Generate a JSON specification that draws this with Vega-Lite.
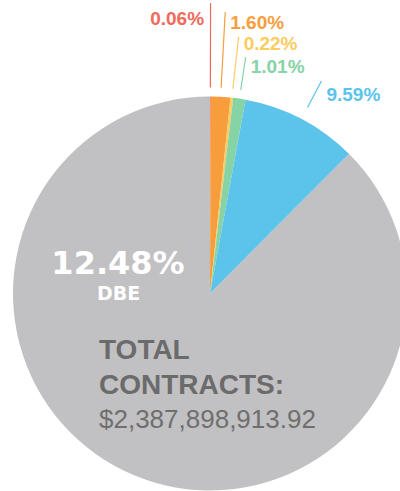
{
  "$schema": "https://vega.github.io/schema/vega-lite/v6.json",
  "width": 380,
  "height": 394,
  "autosize": {"type": "none"},
  "padding": {"left": 20, "top": 96.5, "right": 0, "bottom": 0.5},
  "background": "white",
  "config": {"view": {"stroke": null}},
  "data": {
    "values": [
      {"group": "Segment 1", "category": "DBE", "order": 1, "share": 0.0006},
      {"group": "Segment 2", "category": "DBE", "order": 2, "share": 0.016},
      {"group": "Segment 3", "category": "DBE", "order": 3, "share": 0.0022},
      {"group": "Segment 4", "category": "DBE", "order": 4, "share": 0.0101},
      {"group": "Segment 5", "category": "DBE", "order": 5, "share": 0.0959},
      {"group": "Non-DBE", "category": "Non-DBE", "order": 6, "share": 0.8752}
    ]
  },
  "layer": [
    {
      "transform": [
        {"stack": "share", "groupby": [], "sort": [{"field": "order", "order": "ascending"}], "as": ["s0", "s1"]}
      ],
      "encoding": {
        "theta": {"field": "s0", "type": "quantitative", "scale": {"domain": [0, 1]}},
        "theta2": {"field": "s1"},
        "color": {
          "field": "group", "type": "nominal", "legend": null,
          "scale": {
            "domain": ["Segment 1", "Segment 2", "Segment 3", "Segment 4", "Segment 5", "Non-DBE"],
            "range": ["#F1695A", "#F79D3C", "#FDCB5E", "#86D3A6", "#5CC3EB", "#C1C0C2"]
          }
        }
      },
      "layer": [
        {"mark": {"type": "arc", "radius": 197}},
        {"transform": [{"filter": "datum.order === 1"}], "mark": {"type": "arc", "filled": false, "radius": 290.5, "radius2": 206, "padAngle": 1, "strokeWidth": 1.2}},
        {"transform": [{"filter": "datum.order === 2"}], "mark": {"type": "arc", "filled": false, "radius": 281.9, "radius2": 206, "padAngle": 1, "strokeWidth": 1.2}},
        {"transform": [{"filter": "datum.order === 3"}], "mark": {"type": "arc", "filled": false, "radius": 258.1, "radius2": 206, "padAngle": 1, "strokeWidth": 1.2}},
        {"transform": [{"filter": "datum.order === 4"}], "mark": {"type": "arc", "filled": false, "radius": 239.2, "radius2": 206, "padAngle": 1, "strokeWidth": 1.2}},
        {"transform": [{"filter": "datum.order === 5"}], "mark": {"type": "arc", "filled": false, "radius": 240, "radius2": 210, "padAngle": 1, "strokeWidth": 1.2}}
      ]
    },
    {
      "encoding": {
        "theta": {"field": "share", "type": "quantitative", "stack": true},
        "order": {"field": "order", "type": "quantitative", "sort": "ascending"},
        "text": {"field": "share", "type": "quantitative", "format": ".2%"},
        "color": {"field": "group", "type": "nominal", "legend": null}
      },
      "layer": [
        {"mark": {"type": "text", "radius": 290.5, "align": "right", "baseline": "alphabetic", "dx": -6.5, "dy": 22, "font": "Liberation Sans", "fontWeight": "bold", "fontSize": 19},
         "encoding": {"opacity": {"condition": {"test": "datum.order === 1", "value": 1}, "value": 0}}},
        {"mark": {"type": "text", "radius": 281.9, "align": "left", "baseline": "alphabetic", "dx": 5, "dy": 17, "font": "Liberation Sans", "fontWeight": "bold", "fontSize": 19},
         "encoding": {"opacity": {"condition": {"test": "datum.order === 2", "value": 1}, "value": 0}}},
        {"mark": {"type": "text", "radius": 258.1, "align": "left", "baseline": "alphabetic", "dx": 5, "dy": 13, "font": "Liberation Sans", "fontWeight": "bold", "fontSize": 19},
         "encoding": {"opacity": {"condition": {"test": "datum.order === 3", "value": 1}, "value": 0}}},
        {"mark": {"type": "text", "radius": 239.2, "align": "left", "baseline": "alphabetic", "dx": 5, "dy": 16, "font": "Liberation Sans", "fontWeight": "bold", "fontSize": 19},
         "encoding": {"opacity": {"condition": {"test": "datum.order === 4", "value": 1}, "value": 0}}},
        {"mark": {"type": "text", "radius": 240, "align": "left", "baseline": "alphabetic", "dx": 5, "dy": 20, "font": "Liberation Sans", "fontWeight": "bold", "fontSize": 19},
         "encoding": {"opacity": {"condition": {"test": "datum.order === 5", "value": 1}, "value": 0}}}
      ]
    },
    {
      "transform": [
        {"filter": "datum.category === 'DBE'"},
        {"aggregate": [{"op": "sum", "field": "share", "as": "dbe_share"}], "groupby": ["category"]}
      ],
      "layer": [
        {"mark": {"type": "text", "align": "center", "baseline": "alphabetic", "dx": -92, "dy": -19.5, "font": "DejaVu Sans", "fontWeight": "bold", "fontSize": 32, "color": "#ffffff"},
         "encoding": {"text": {"field": "dbe_share", "type": "quantitative", "format": ".2%"}}},
        {"mark": {"type": "text", "align": "center", "baseline": "alphabetic", "dx": -91.3, "dy": 6.8, "font": "DejaVu Sans", "fontWeight": "bold", "fontSize": 19, "color": "#ffffff"},
         "encoding": {"text": {"field": "category", "type": "nominal"}}}
      ]
    },
    {
      "data": {"values": [{"label": "TOTAL CONTRACTS:", "amount": 2387898913.92}]},
      "layer": [
        {"mark": {"type": "text", "align": "left", "baseline": "alphabetic", "dx": -111, "dy": 65.8, "font": "Liberation Sans", "fontWeight": "bold", "fontSize": 28, "lineHeight": 34.7, "lineBreak": " ", "color": "#6b6b6b"},
         "encoding": {"text": {"field": "label", "type": "nominal"}}},
        {"mark": {"type": "text", "align": "left", "baseline": "alphabetic", "dx": -111, "dy": 134.8, "font": "Liberation Sans", "fontWeight": "normal", "fontSize": 26, "color": "#6f6f6f"},
         "encoding": {"text": {"field": "amount", "type": "quantitative", "format": "$,.2f"}}}
      ]
    }
  ]
}
